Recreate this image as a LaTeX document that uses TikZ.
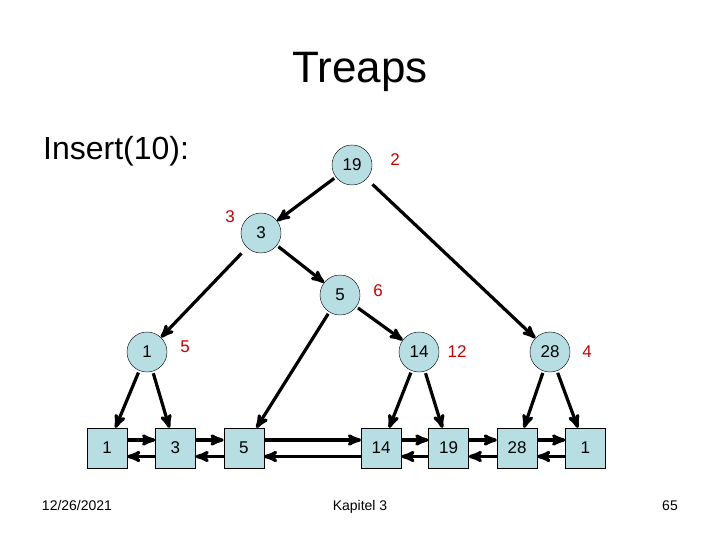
\documentclass[tikz,border=0pt]{standalone}
\usepackage{fontspec}
\setmainfont{Liberation Sans}
\usetikzlibrary{arrows,positioning}
\definecolor{treapfill}{RGB}{183,222,226}
\definecolor{priored}{RGB}{204,0,0}

\begin{document}
\begin{tikzpicture}[
			x=1pt, y=-1pt,
			>=stealth',
			tnode/.style={draw, thin, circle, fill=treapfill, minimum size=40pt, inner sep=0pt, font=\fontsize{17}{17}\selectfont},
			leaf/.style={draw, thin, rectangle, fill=treapfill, minimum size=40pt, inner sep=0pt, font=\fontsize{17}{17}\selectfont},
			prio/.style={text=priored, inner sep=0pt, font=\fontsize{17}{17}\selectfont},
			link/.style={->, line width=3.2pt, shorten <=2pt},
			foot/.style={anchor=base, inner sep=0pt, font=\fontsize{14}{14}\selectfont}
	]
	\useasboundingbox (0,0) rectangle (720,540);

	% >> title
	\node[anchor=base, inner sep=0pt, font=\fontsize{44}{44}\selectfont] (title) at (360,83) {Treaps};
	\node[anchor=base west, inner sep=0pt, font=\fontsize{32}{32}\selectfont] (insert) at (43,160) {Insert(10):};

	% >> tree
	\node[tnode] (r19) at (352,165) {19};
	\node[tnode] (n3) at (261,233) {3};
	\node[tnode] (n5) at (340,295) {5};
	\node[tnode] (n1) at (147,352) {1};
	\node[tnode] (n14) at (419,352) {14};
	\node[tnode] (n28) at (550,352) {28};

	\node[prio] (p19) at ([xshift=43pt,yshift=5pt]r19) {2};
	\node[prio] (p3) at ([xshift=-31pt,yshift=16pt]n3) {3};
	\node[prio] (p5) at ([xshift=38pt,yshift=4pt]n5) {6};
	\node[prio] (p1) at ([xshift=38pt,yshift=5pt]n1) {5};
	\node[prio] (p14) at ([xshift=38pt]n14) {12};
	\node[prio] (p28) at ([xshift=37pt]n28) {4};

	% >> leaves
	\node[leaf] (l1) at (107,448) {1};
	\node[leaf, right=28pt of l1] (l3) {3};
	\node[leaf, right=28pt of l3] (l5) {5};
	\node[leaf, right=97pt of l5] (l14) {14};
	\node[leaf, right=27pt of l14] (l19) {19};
	\node[leaf, right=28pt of l19] (l28) {28};
	\node[leaf, right=28pt of l28] (l1b) {1};

	% >> edges
	\draw[link] (r19) -- (n3);
	\draw[link, shorten <=8pt] (r19) -- (n28);
	\draw[link, shorten <=8pt] (n3) -- (n1);
	\draw[link] (n3) -- (n5);
	\draw[link] (n5) -- (l5);
	\draw[link] (n5) -- (n14);
	\draw[link] (n1) -- (l1);
	\draw[link] (n1) -- (l3);
	\draw[link] (n14) -- (l14);
	\draw[link] (n14) -- (l19);
	\draw[link] (n28) -- (l28);
	\draw[link] (n28) -- (l1b);

	\foreach \a/\b in {l1/l3, l3/l5, l5/l14, l14/l19, l19/l28, l28/l1b} {
		\draw[link, shorten <=0pt] ([yshift=8pt]\a.east) -- ([yshift=8pt]\b.west);
		\draw[link, shorten <=0pt] ([yshift=-8.5pt]\b.west) -- ([yshift=-8.5pt]\a.east);
	}

	% >> footer
	\node[foot] (date) at (77,510) {12/26/2021};
	\node[foot] (chapter) at (360,510) {Kapitel 3};
	\node[foot] (page) at (670,510) {65};
\end{tikzpicture}
\end{document}
